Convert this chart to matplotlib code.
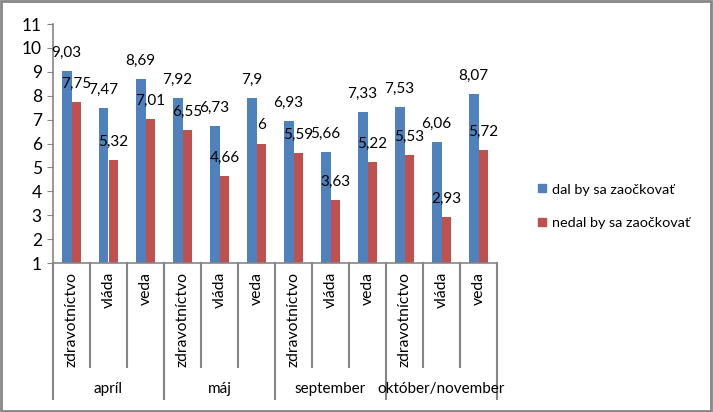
import matplotlib.pyplot as plt
from matplotlib.lines import Line2D

plt.rcParams['font.family'] = ['Lato', 'DejaVu Sans']

mesiace = ['apríl', 'máj', 'september', 'október/november']
oblasti = ['zdravotníctvo', 'vláda', 'veda']
dal = [9.03, 7.47, 8.69, 7.92, 6.73, 7.9, 6.93, 5.66, 7.33, 7.53, 6.06, 8.07]
nedal = [7.75, 5.32, 7.01, 6.55, 4.66, 6, 5.59, 3.63, 5.22, 5.53, 2.93, 5.72]
nazvy = ['dal by sa zaočkovať', 'nedal by sa zaočkovať']

modra = '#4F81BD'
cervena = '#C0504D'
seda = '#868686'

W, H = 713, 412
fig = plt.figure(figsize=(W / 100, H / 100), dpi=100)
ax = fig.add_axes([53 / W, 1 - 263 / H, (497 - 53) / W, (263 - 24) / H])

n = len(dal)
x = list(range(n))
w = 0.27
ax.bar([i - w / 2 for i in x], dal, w, color=modra, label=nazvy[0])
ax.bar([i + w / 2 for i in x], nedal, w, color=cervena, label=nazvy[1])

def fmt(v):
    s = ('%.2f' % v).rstrip('0').rstrip('.')
    return s.replace('.', ',')

for i in x:
    ax.annotate(fmt(dal[i]), (i - w / 2, dal[i]), xytext=(0, 13), textcoords='offset points',
                ha='center', va='center', fontsize=11)
    ax.annotate(fmt(nedal[i]), (i + w / 2, nedal[i]), xytext=(0, 13), textcoords='offset points',
                ha='center', va='center', fontsize=11)

ax.set_xlim(-0.5, n - 0.5)
ax.set_ylim(1, 11)
ax.set_yticks(range(1, 12))
ax.tick_params(axis='y', length=4, color=seda, labelsize=12.5, pad=4)
ax.set_xticks([])
for s in ['top', 'right']:
    ax.spines[s].set_visible(False)
for s in ['left', 'bottom']:
    ax.spines[s].set_color(seda)
    ax.spines[s].set_linewidth(1.2)

tr = ax.get_xaxis_transform()
kat_dole = -(367 - 263) / 239
skup_dole = -(399 - 263) / 239
for k in range(n + 1):
    dole = skup_dole if k % 3 == 0 else kat_dole
    ax.plot([k - 0.5, k - 0.5], [0, dole], color=seda, lw=1.5, transform=tr, clip_on=False)

for i in x:
    ax.text(i, -9 / 239, oblasti[i % 3], rotation=90, ha='center', va='top',
            fontsize=11.3, transform=tr)
for g, m in enumerate(mesiace):
    ax.text(g * 3 + 1, -(389 - 263) / 239, m, ha='center', va='center', fontsize=11, transform=tr)

handles = [Line2D([], [], marker='s', ls='', color=modra, markersize=6),
           Line2D([], [], marker='s', ls='', color=cervena, markersize=6)]
fig.legend(handles, nazvy, loc='center left', bbox_to_anchor=(522 / W, 1 - 206 / H),
           frameon=False, fontsize=10.4, handletextpad=0.15, labelspacing=1.45, handlelength=1.0)

fig.patches.append(plt.Rectangle((0.002, 0.003), 0.995, 0.994, transform=fig.transFigure,
                                 fill=False, edgecolor=seda, lw=2))

fig.savefig('out.png', dpi=100)
